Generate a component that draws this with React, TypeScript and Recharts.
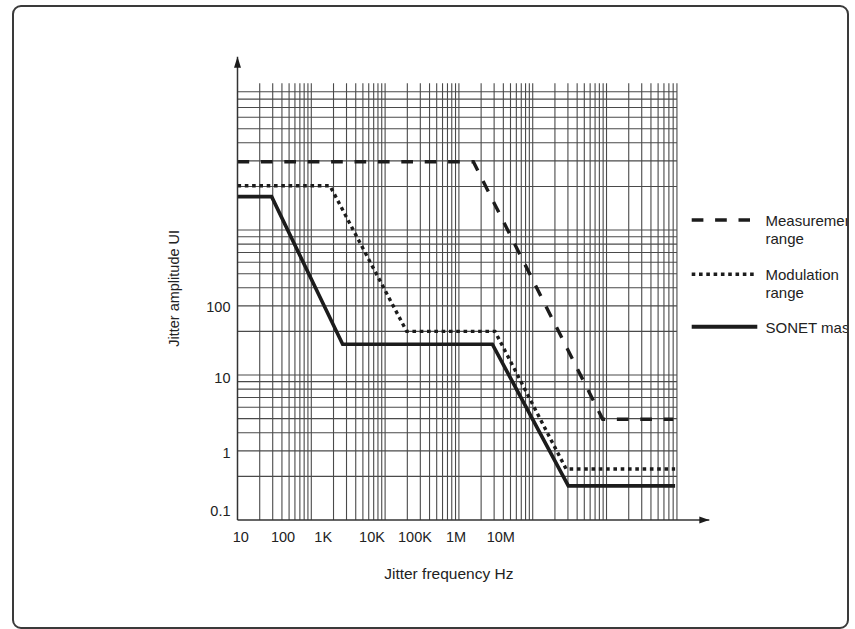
import React from "react"
import { LineChart, Line, XAxis, YAxis, ReferenceLine, ReferenceDot } from "recharts"

// Log-log jitter tolerance plot. Grid values are in "paper" units (decades of the log grid).
const FONT = "'Liberation Sans', Arial, sans-serif"
const INK = "#1c1c1c"

const X_MAX = 2470000
const Y_MAX = 1570
const GRID_TOP = 1030
const GRID_RIGHT = 900000

// tick labels sit where the printed figure put them (they do not line up with the grid)
const FREQ_TICK_AT = [1.11, 4.14, 14.5, 66.5, 254, 913, 3700]
const FREQ_TICK_LABELS = ["10", "100", "1K", "10K", "100K", "1M", "10M"]
const AMP_TICK_AT = [1.15, 2.92, 9.61, 29.6]
const AMP_TICK_LABELS = ["0.1", "1", "10", "100"]

const MEASUREMENT = [
  { f: 1, a: 296 },
  { f: 1570, a: 296 },
  { f: 88900, a: 4.95 },
  { f: 803000, a: 4.95 },
]
const MODULATION = [
  { f: 1, a: 202 },
  { f: 17.9, a: 202 },
  { f: 196, a: 20 },
  { f: 3080, a: 20 },
  { f: 28300, a: 2.25 },
  { f: 850000, a: 2.25 },
]
const SONET_MASK = [
  { f: 1, a: 170 },
  { f: 2.9, a: 170 },
  { f: 26.6, a: 16.3 },
  { f: 2840, a: 16.3 },
  { f: 30400, a: 1.72 },
  { f: 850000, a: 1.72 },
]

const LEGEND = [
  { lines: ["Measurement", "range"], dash: "11.7 11.7", len: 58.3 },
  { lines: ["Modulation", "range"], dash: "3.6 3.7", len: 65.6 },
  { lines: ["SONET mask"], dash: undefined, len: 65.6 },
]

function logGrid(decades: number): number[] {
  const out: number[] = []
  for (let n = 0; n < decades; n++) {
    for (let k = 1; k <= 9; k++) {
      if (n === 0 && k === 1) continue
      out.push(k * 10 ** n)
    }
  }
  return out
}

const GRID_X = logGrid(6)
const GRID_Y = logGrid(3)

const ArrowRight = (p: any) => (
  <polygon points={`${p.cx},${p.cy} ${p.cx - 10},${p.cy - 3.5} ${p.cx - 10},${p.cy + 3.5}`} fill={INK} />
)
const ArrowUp = (p: any) => (
  <polygon points={`${p.cx},${p.cy} ${p.cx - 3.5},${p.cy + 11} ${p.cx + 3.5},${p.cy + 11}`} fill={INK} />
)

export default function App() {
  return (
    <div
      style={{
        position: "absolute",
        left: 12,
        top: 5,
        width: 837,
        height: 624,
        boxSizing: "border-box",
        border: "2px solid #3a3a3a",
        borderRadius: 9,
        overflow: "hidden",
        background: "#fff",
        fontFamily: FONT,
      }}
    >
      <div style={{ position: "absolute", left: -14, top: -7 }}>
        <LineChart
          width={855}
          height={629}
          margin={{ top: 56.7, right: 145.7, bottom: 49, left: 150 }}
        >
          <XAxis
            type="number"
            dataKey="f"
            scale="log"
            domain={[1, X_MAX]}
            ticks={FREQ_TICK_AT}
            interval={0}
            tickFormatter={(_v: number, i: number) => FREQ_TICK_LABELS[i]}
            tickLine={false}
            tickSize={0}
            tickMargin={11.4}
            height={60}
            axisLine={{ stroke: "#333", strokeWidth: 1.5 }}
            tick={{ fill: "#222", fontSize: 14.5, fontFamily: FONT }}
            label={{
              value: "Jitter frequency Hz",
              position: "insideBottom",
              offset: 1,
              dx: -24.6,
              fill: "#222",
              fontSize: 15.5,
              fontFamily: FONT,
            }}
          />
          <YAxis
            type="number"
            dataKey="a"
            scale="log"
            domain={[1, Y_MAX]}
            ticks={AMP_TICK_AT}
            interval={0}
            tickFormatter={(_v: number, i: number) => AMP_TICK_LABELS[i]}
            tickLine={false}
            tickSize={0}
            tickMargin={7}
            width={87.5}
            axisLine={{ stroke: "#333", strokeWidth: 1.5 }}
            tick={{ fill: "#222", fontSize: 14.5, fontFamily: FONT }}
            label={{
              value: "Jitter amplitude UI",
              angle: -90,
              position: "insideLeft",
              offset: 24,
              fill: "#222",
              fontSize: 14.5,
              fontFamily: FONT,
              style: { textAnchor: "middle" },
            }}
          />
          {GRID_X.map((v) => (
            <ReferenceLine
              key={"gx" + v}
              segment={[{ x: v, y: 1 }, { x: v, y: GRID_TOP }]}
              stroke="#4a4a4a"
              strokeWidth={1.1}
            />
          ))}
          {GRID_Y.map((v) => (
            <ReferenceLine
              key={"gy" + v}
              segment={[{ x: 1, y: v }, { x: GRID_RIGHT, y: v }]}
              stroke="#4a4a4a"
              strokeWidth={1.1}
            />
          ))}
          <ReferenceDot x={X_MAX} y={1} r={4} shape={ArrowRight} />
          <ReferenceDot x={1} y={Y_MAX} r={4} shape={ArrowUp} />
          <Line
            data={MEASUREMENT}
            dataKey="a"
            type="linear"
            stroke={INK}
            strokeWidth={3.4}
            strokeDasharray="11.7 11.7"
            dot={false}
            activeDot={false}
            isAnimationActive={false}
          />
          <Line
            data={MODULATION}
            dataKey="a"
            type="linear"
            stroke={INK}
            strokeWidth={3.4}
            strokeDasharray="3.6 3.7"
            dot={false}
            activeDot={false}
            isAnimationActive={false}
          />
          <Line
            data={SONET_MASK}
            dataKey="a"
            type="linear"
            stroke={INK}
            strokeWidth={3.6}
            dot={false}
            activeDot={false}
            isAnimationActive={false}
          />
        </LineChart>
        <svg
          width={855}
          height={629}
          style={{ position: "absolute", left: 0, top: 0, pointerEvents: "none" }}
        >
          {LEGEND.map((item, i) => {
            const y = [220, 274.3, 326.7][i]
            return (
              <g key={item.lines[0]}>
                <line
                  x1={691.7}
                  x2={691.7 + item.len}
                  y1={y}
                  y2={y}
                  stroke={INK}
                  strokeWidth={i === 2 ? 4 : 3.4}
                  strokeDasharray={item.dash}
                />
                {item.lines.map((t, j) => (
                  <text
                    key={t + j}
                    x={765.5}
                    y={y + 6 + j * 17.5}
                    fontSize={15}
                    fontFamily={FONT}
                    fill="#222"
                  >
                    {t}
                  </text>
                ))}
              </g>
            )
          })}
        </svg>
      </div>
    </div>
  )
}
